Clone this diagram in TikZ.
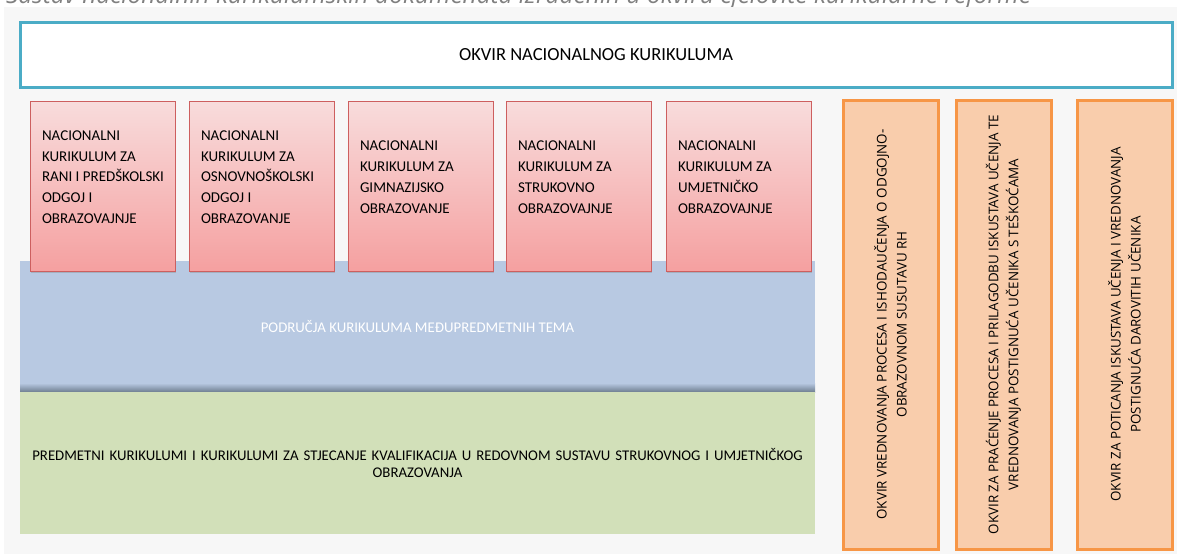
\documentclass[tikz,border=0pt]{standalone}
\usepackage{fontspec}
\setmainfont{Carlito}
\newfontfamily\boxfont{Carlito}
\newfontfamily\sidefont{Open Sans}
\usepackage{xcolor}
\usepackage{tikz}
\usetikzlibrary{shadows}
\definecolor{Page}{RGB}{247,247,247}
\definecolor{Frame}{RGB}{75,172,198}
\definecolor{Pink-top}{RGB}{248,220,220}
\definecolor{Pink-bottom}{RGB}{245,160,160}
\definecolor{Pink-line}{RGB}{205,95,95}
\definecolor{Band-blue}{RGB}{184,201,226}
\definecolor{Band-shadow}{RGB}{110,126,144}
\definecolor{Band-green}{RGB}{210,224,185}
\definecolor{Orange-line}{RGB}{247,150,70}
\definecolor{Orange-fill}{RGB}{249,205,172}
\tikzstyle{b}=[rectangle,inner sep=0pt,outer sep=0pt,anchor=north west]
\tikzstyle{b frame}=[b,draw=Frame,line width=3pt,fill=white,font=\fontsize{18.5}{22}\selectfont]
\tikzstyle{b band}=[b,minimum width=795pt,font=\boxfont\fontsize{14.8}{17}\selectfont]
\tikzstyle{b nk}=[b,draw=Pink-line,line width=0.8pt,top color=Pink-top,bottom color=Pink-bottom,
                  minimum width=145pt,minimum height=170pt,
                  drop shadow={shadow xshift=1pt,shadow yshift=-2pt,opacity=0.35}]
\tikzstyle{b side}=[b,draw=Orange-line,line width=3pt,fill=Orange-fill,minimum width=95pt,minimum height=449pt]
\tikzstyle{t}=[inner sep=0pt,outer sep=0pt]
\tikzstyle{t nk}=[t,anchor=west,align=left,font=\boxfont\fontsize{15}{20.8}\selectfont]
\tikzstyle{t side}=[t,rotate=90,align=center,font=\sidefont\fontsize{13.4}{20}\selectfont]

\begin{document}
\begin{tikzpicture}[x=1pt,y=-1pt]
    \useasboundingbox (0,0) rectangle (1177,554);

    % caption above, cut by the page
    \begin{scope}
        \clip (0,0) rectangle (1177,7);
        \node[t,anchor=base west,text=gray,font=\sidefont\itshape\fontsize{24.5}{26}\selectfont] (caption) at (6,4)
            {Sastav nacionalnih kurikulumskih dokumenata izrađenih u okviru cjelovite kurikularne reforme};
    \end{scope}
    \fill[Page] (4,7) rectangle (1177,554);

    \node[b frame,minimum width=1152pt,minimum height=65pt] (okvir) at (20,22) {OKVIR NACIONALNOG KURIKULUMA};

    \node[b band,fill=Band-blue,minimum height=131pt,text=white] (teme) at (20,261)
        {PODRUČJA KURIKULUMA MEĐUPREDMETNIH TEMA};
    \shade[top color=Band-blue,bottom color=Band-shadow] (20,383) rectangle (815,392);
    \node[b band,fill=Band-green,minimum height=142pt,text width=785pt,align=center] (predmetni) at (20,392)
        {PREDMETNI KURIKULUMI I KURIKULUMI ZA STJECANJE KVALIFIKACIJA U REDOVNOM SUSTAVU STRUKOVNOG I UMJETNIČKOG\\OBRAZOVANJA};

    \foreach \x/\n/\txt in {30/rpo/{NACIONALNI\\KURIKULUM ZA\\RANI I PREDŠKOLSKI\\ODGOJ I\\OBRAZOVAJNJE},
                            189/oso/{NACIONALNI\\KURIKULUM ZA\\OSNOVNOŠKOLSKI\\ODGOJ I\\OBRAZOVANJE},
                            348/gim/{NACIONALNI\\KURIKULUM ZA\\GIMNAZIJSKO\\OBRAZOVANJE},
                            506/str/{NACIONALNI\\KURIKULUM ZA\\STRUKOVNO\\OBRAZOVAJNJE},
                            666/umj/{NACIONALNI\\KURIKULUM ZA\\UMJETNIČKO\\OBRAZOVAJNJE}}{
        \node[b nk] (\n) at (\x,101) {};
        \node[t nk] (\n-text) at ([xshift=12pt,yshift=9pt]\n.west) {\txt};
    }

    \node[b side] (vrednovanje) at (843,100) {};
    \node[b side] (pracenje)    at (956,100) {};
    \node[b side] (poticanje)   at (1077,100) {};

    \node[t side] (vrednovanje-text) at (vrednovanje.center)
        {OKVIR VREDNOVANJA PROCESA I ISHODAUČENJA O ODGOJNO-\\OBRAZOVNOM SUSUTAVU RH};
    \node[t side] (pracenje-text) at (pracenje.center)
        {OKVIR ZA PRAĆENJE PROCESA I PRILAGODBU ISKUSTAVA UČENJA TE\\VREDNOVANJA POSTIGNUĆA UČENIKA S TEŠKOĆAMA};
    \node[t side] (poticanje-text) at (poticanje.center)
        {OKVIR ZA POTICANJA ISKUSTAVA UČENJA I VREDNOVANJA\\POSTIGNUĆA DAROVITIH UČENIKA};

\end{tikzpicture}
\end{document}
